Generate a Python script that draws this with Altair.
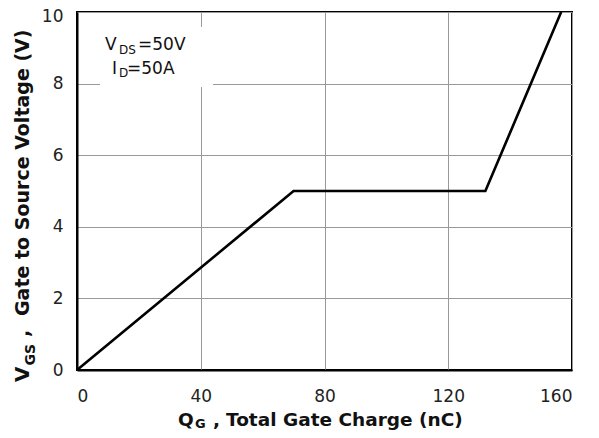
import altair as alt
import pandas as pd

# Gate charge curve vertices (nC, V)
qg = [0, 70, 132, 156.5]
vgs = [0, 5, 5, 10]

x_ticks = [0, 40, 80, 120, 160]
y_ticks = [0, 2, 4, 6, 8, 10]

FONT = "DejaVu Sans"
W, H = 495, 358

df = pd.DataFrame({"qg": qg, "vgs": vgs})
one = pd.DataFrame({"a": [0]})

xs = alt.Scale(domain=[0, 160], nice=False, zero=False)
ys = alt.Scale(domain=[0, 10], nice=False, zero=False)

line = alt.Chart(df).mark_line(color="black", strokeWidth=2.6).encode(
    x=alt.X("qg:Q", scale=xs, axis=alt.Axis(values=x_ticks, title=None, grid=True,
                                              ticks=False, labelPadding=18, labelFontSize=17,
                                              labelFont=FONT, labelColor="#222",
                                              domainColor="black", domainWidth=2,
                                              gridColor="#999", gridWidth=1)),
    y=alt.Y("vgs:Q", scale=ys, axis=alt.Axis(values=y_ticks, title=None, grid=True,
                                               ticks=False, labelPadding=14, labelFontSize=17,
                                               labelFont=FONT, labelColor="#222",
                                               labelOffset={"condition": {"test": "datum.value == 10", "value": 4}, "value": 0},
                                               domainColor="black", domainWidth=2,
                                               gridColor="#999", gridWidth=1)),
    order=alt.Order("qg:Q"),
)

# white background behind the condition note
box = alt.Chart(one).mark_rect(color="white").encode(
    x=alt.value(23), x2=alt.value(136), y=alt.value(15), y2=alt.value(75)
)


def txt(s, x, y, size, bold=False, angle=0):
    return alt.Chart(one).mark_text(
        text=s, font=FONT, fontSize=size, fontWeight="bold" if bold else "normal",
        align="left", baseline="alphabetic", angle=angle, color="#111"
    ).encode(x=alt.value(x), y=alt.value(y))


notes = [
    txt("V", 28, 38, 17), txt("DS", 42, 42, 12), txt("=50V", 61, 38, 17),
    txt("I", 35, 62, 17), txt("D", 42, 65, 12), txt("=50A", 50, 62, 17),
]

xtitle = [
    txt("Q", 101, 414, 18.5, True), txt("G", 118, 416, 13, True),
    txt(",", 136, 414, 18.5, True), txt("Total Gate Charge (nC)", 149, 414, 18.5, True),
]

ytitle = [
    txt("V", -48, 370, 20, True, 270), txt("GS", -42, 353.5, 14, True, 270),
    txt(",", -48, 325, 19, True, 270), txt("Gate to Source Voltage (V)", -48, 304, 19, True, 270),
]

chart = alt.layer(box, line, *notes, *xtitle, *ytitle).properties(
    width=W, height=H, autosize="none",
    padding={"left": 69, "top": 4, "right": 15, "bottom": 60},
).configure_view(stroke="black", strokeWidth=2)

chart.save("out.html", embed_options={"renderer": "svg", "actions": False})
